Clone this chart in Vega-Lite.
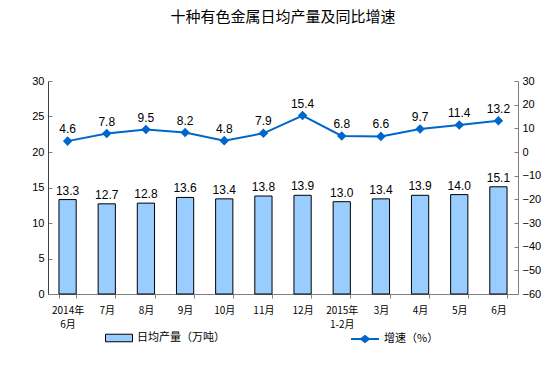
{
  "$schema": "https://vega.github.io/schema/vega-lite/v6.json",
  "autosize": "none",
  "width": 470,
  "height": 213,
  "padding": {"left": 48, "top": 81, "right": 36, "bottom": 78},
  "background": "white",
  "title": {
    "text": "十种有色金属日均产量及同比增速",
    "font": "Noto Sans CJK SC",
    "fontSize": 15,
    "fontWeight": "normal",
    "color": "#000000",
    "anchor": "middle",
    "offset": 50
  },
  "config": {
    "view": {"stroke": null},
    "axis": {
      "grid": false,
      "domainColor": "#808080",
      "tickColor": "#808080",
      "labelColor": "#000000",
      "labelFont": "Liberation Sans",
      "labelFontSize": 11,
      "title": null
    },
    "legend": {
      "labelFont": "Noto Sans CJK SC",
      "labelFontSize": 11,
      "labelColor": "#000000",
      "title": null
    }
  },
  "data": {
    "values": [
      {"month": "2014年\n6月", "prod": 13.3, "growth": 4.6},
      {"month": "7月", "prod": 12.7, "growth": 7.8},
      {"month": "8月", "prod": 12.8, "growth": 9.5},
      {"month": "9月", "prod": 13.6, "growth": 8.2},
      {"month": "10月", "prod": 13.4, "growth": 4.8},
      {"month": "11月", "prod": 13.8, "growth": 7.9},
      {"month": "12月", "prod": 13.9, "growth": 15.4},
      {"month": "2015年\n1-2月", "prod": 13.0, "growth": 6.8},
      {"month": "3月", "prod": 13.4, "growth": 6.6},
      {"month": "4月", "prod": 13.9, "growth": 9.7},
      {"month": "5月", "prod": 14.0, "growth": 11.4},
      {"month": "6月", "prod": 15.1, "growth": 13.2}
    ]
  },
  "encoding": {
    "x": {
      "field": "month",
      "type": "nominal",
      "sort": null,
      "scale": {"paddingInner": 0.56, "paddingOuter": 0.28},
      "axis": {
        "labelAngle": 0,
        "labelExpr": "split(datum.label, '\\n')",
        "labelFont": "Noto Sans CJK SC",
        "labelFontSize": 10,
        "labelLineHeight": 14,
        "tickBand": "extent",
        "tickSize": 4,
        "labelPadding": 7
      }
    }
  },
  "layer": [
    {
      "encoding": {
        "y": {
          "field": "prod",
          "type": "quantitative",
          "scale": {"domain": [0, 30], "nice": false},
          "axis": {"values": [0, 5, 10, 15, 20, 25, 30], "tickSize": -4, "labelPadding": 8, "domainColor": "#404040"}
        }
      },
      "layer": [
        {
          "mark": {"type": "bar", "stroke": "#000000", "strokeWidth": 1},
          "encoding": {
            "fill": {
              "datum": "日均产量（万吨）",
              "scale": {"range": ["#99ccff"]},
              "legend": {
                "orient": "none",
                "legendX": 57,
                "legendY": 243,
                "symbolType": "M-1,-0.28L1,-0.28L1,0.28L-1,0.28Z",
                "symbolSize": 729,
                "symbolStrokeColor": "#000000",
                "symbolStrokeWidth": 1
              }
            }
          }
        },
        {
          "mark": {"type": "text", "dy": -9, "font": "Liberation Sans", "fontSize": 12, "color": "#000000"},
          "encoding": {"text": {"field": "prod", "type": "quantitative", "format": ".1f"}}
        }
      ]
    },
    {
      "encoding": {
        "y": {
          "field": "growth",
          "type": "quantitative",
          "scale": {"domain": [-60, 30], "nice": false},
          "axis": {"orient": "right", "values": [-60, -50, -40, -30, -20, -10, 0, 10, 20, 30], "tickSize": -4, "labelPadding": 8}
        }
      },
      "layer": [
        {
          "mark": {
            "type": "line",
            "strokeWidth": 2,
            "point": {"shape": "diamond", "filled": true, "size": 45, "color": "#0066cc"}
          },
          "encoding": {
            "stroke": {
              "datum": "增速（%）",
              "scale": {"range": ["#0066cc"]},
              "legend": {
                "orient": "none",
                "legendX": 302,
                "legendY": 243,
                "symbolType": "M-1,0L1,0M-0.28,0L0,-0.22L0.28,0L0,0.22Z",
                "symbolSize": 784,
                "symbolFillColor": "#0066cc",
                "symbolStrokeWidth": 2
              }
            }
          }
        },
        {
          "mark": {"type": "text", "dy": -12, "font": "Liberation Sans", "fontSize": 12, "color": "#000000"},
          "encoding": {"text": {"field": "growth", "type": "quantitative", "format": ".1f"}}
        }
      ]
    }
  ],
  "resolve": {"scale": {"y": "independent"}}
}
